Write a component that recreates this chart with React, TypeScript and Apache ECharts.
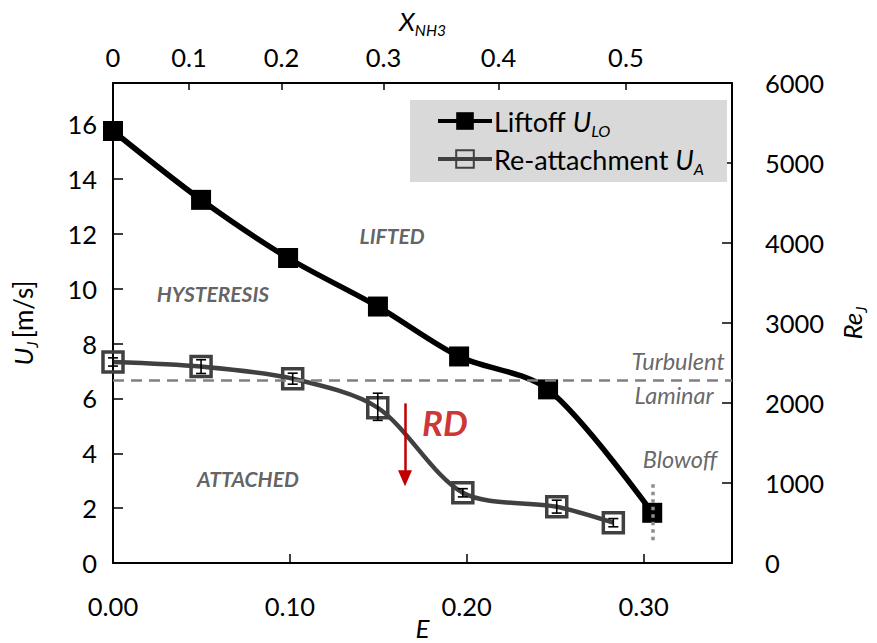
import React, { useEffect, useRef } from "react";
import * as echarts from "echarts";

// Energy fraction E of the fuel blend (bottom axis)
const E_LIFTOFF = [0, 0.0498, 0.099, 0.1498, 0.1957, 0.246, 0.3049];
const U_LIFTOFF = [15.75, 13.24, 11.12, 9.35, 7.53, 6.33, 1.83];

const E_REATTACH = [0, 0.0498, 0.1016, 0.1497, 0.1978, 0.2509, 0.2829];
const U_REATTACH = [7.33, 7.16, 6.72, 5.66, 2.56, 2.05, 1.47];
const REATTACH_LOW = [7.18, 6.91, 6.52, 5.2, 2.41, 1.82, 1.32];
const REATTACH_HIGH = [7.48, 7.41, 6.92, 6.19, 2.71, 2.29, 1.62];

// Bottom axis ticks (E)
const E_TICKS = [0, 0.1, 0.2, 0.3];
// Top axis: NH3 mole fraction labels placed at their equivalent E
const X_NH3_LABELS = ["0", "0.1", "0.2", "0.3", "0.4", "0.5"];
const X_NH3_AT_E = [0, 0.043, 0.0953, 0.153, 0.218, 0.29];

const U_TICKS = [0, 2, 4, 6, 8, 10, 12, 14, 16];
const RE_TICKS = [0, 1000, 2000, 3000, 4000, 5000, 6000];

// Laminar / turbulent transition and blowoff limit
const U_TRANSITION = 6.68;
const E_BLOWOFF = 0.305;
const U_BLOWOFF_SPAN = [0.83, 2.9];
// Recirculation-driven drop arrow
const RD_ARROW_E = 0.1651;
const RD_ARROW_U = [5.82, 3.09];

const REGION_NOTES = [
  { name: "LIFTED", e: 0.1578, u: 11.93 },
  { name: "HYSTERESIS", e: 0.0565, u: 9.82 },
  { name: "ATTACHED", e: 0.0763, u: 3.09 },
];
const FLOW_NOTES = [
  { name: "Turbulent", e: 0.3195, u: 7.35 },
  { name: "Laminar", e: 0.3172, u: 6.11 },
  { name: "Blowoff", e: 0.3206, u: 3.78 },
];
const RD_NOTE = { name: "RD", e: 0.1877, u: 5.13 };

const FONT = "Lato, 'Open Sans', sans-serif";
const DARK = "#404040";
const TICK_FONT = 25.5;

export default function App() {
  const ref = useRef<HTMLDivElement>(null);

  useEffect(() => {
    document.body.style.margin = "0";
    const chart = echarts.init(ref.current!, null, { renderer: "svg" });

    // italic symbol with lowered subscript
    const subRich = (size: number) => ({
      i: { fontStyle: "italic", fontSize: size, lineHeight: 34, fontFamily: FONT, color: "#000" },
      s: { fontStyle: "italic", fontSize: size * 0.6, lineHeight: 15, fontFamily: FONT, color: "#000", verticalAlign: "bottom" },
      n: { fontSize: size, lineHeight: 34, fontFamily: FONT, color: "#000" },
    });

    const axisLineStyle = { color: "#000", width: 2 };
    const tickStyle = { color: "#000", width: 1.5 };

    const option: any = {
      animation: false,
      textStyle: { fontFamily: FONT },
      grid: { left: 113, right: 145, top: 83, bottom: 80, containLabel: false, outerBoundsMode: "none" },
      legend: {
        data: ["Liftoff", "Re-attachment"],
        orient: "vertical",
        left: 410,
        top: 100,
        backgroundColor: "#d9d9d9",
        padding: [4, 23, 6, 26],
        itemGap: 4,
        itemWidth: 54,
        itemHeight: 22,
        lineStyle: { width: 4 },
        textStyle: {
          fontSize: 27,
          lineHeight: 34,
          color: "#000",
          fontFamily: FONT,
          padding: [0, 0, 0, -3],
          rich: subRich(27),
        },
        formatter: (name: string) =>
          name === "Liftoff" ? "{n|Liftoff }{i|U}{s|LO}" : "{n|Re-attachment }{i|U}{s|A}",
      },
      xAxis: [
        {
          type: "value",
          position: "bottom",
          min: 0,
          max: 0.35,
          name: "E",
          nameLocation: "middle",
          nameGap: 52,
          nameMoveOverlap: false,
          nameTextStyle: { fontSize: 26, fontStyle: "italic", color: "#000" },
          axisLine: { show: true, onZero: false, lineStyle: axisLineStyle },
          axisTick: { show: true, inside: true, length: 9, lineStyle: tickStyle, customValues: E_TICKS },
          axisLabel: {
            fontSize: TICK_FONT,
            color: "#000",
            margin: 30,
            customValues: E_TICKS,
            formatter: (v: number) => v.toFixed(2),
          },
          splitLine: { show: false },
        },
        {
          type: "value",
          position: "top",
          min: 0,
          max: 0.35,
          name: "{i|X}{s|NH3}",
          nameLocation: "middle",
          nameGap: 45,
          nameMoveOverlap: false,
          nameTextStyle: { rich: subRich(26) },
          axisLine: { show: true, onZero: false, lineStyle: axisLineStyle },
          axisTick: { show: true, inside: true, length: 7, lineStyle: tickStyle, customValues: X_NH3_AT_E },
          axisLabel: {
            fontSize: TICK_FONT,
            color: "#000",
            margin: 13,
            customValues: X_NH3_AT_E,
            formatter: (v: number) => {
              let best = 0;
              X_NH3_AT_E.forEach((e, k) => {
                if (Math.abs(e - v) < Math.abs(X_NH3_AT_E[best] - v)) best = k;
              });
              return X_NH3_LABELS[best];
            },
          },
          splitLine: { show: false },
        },
      ],
      yAxis: [
        {
          type: "value",
          position: "left",
          min: 0,
          max: 17.5,
          name: "{i|U}{s|J} {n|[m/s]}",
          nameLocation: "middle",
          nameRotate: 90,
          nameGap: 73,
          nameTextStyle: { rich: subRich(26) },
          axisLine: { show: true, onZero: false, lineStyle: axisLineStyle },
          axisTick: { show: true, inside: true, length: 10, lineStyle: tickStyle, customValues: U_TICKS },
          axisLabel: { fontSize: TICK_FONT, color: "#000", margin: 16, customValues: U_TICKS },
          splitLine: { show: false },
        },
        {
          type: "value",
          position: "right",
          min: 0,
          max: 6000,
          name: "{i|Re}{s|J}",
          nameLocation: "middle",
          nameRotate: 90,
          nameGap: 103,
          nameTextStyle: { rich: subRich(26) },
          axisLine: { show: true, onZero: false, lineStyle: axisLineStyle },
          axisTick: { show: true, inside: true, length: 10, lineStyle: tickStyle, customValues: RE_TICKS },
          axisLabel: {
            fontSize: TICK_FONT,
            color: "#000",
            margin: 33,
            customValues: RE_TICKS,
            formatter: (v: number) => String(v),
          },
          splitLine: { show: false },
        },
      ],
      series: [
        {
          name: "Liftoff",
          type: "line",
          smooth: 0.3,
          data: E_LIFTOFF.map((e, k) => [e, U_LIFTOFF[k]]),
          symbol: "rect",
          symbolSize: 20,
          itemStyle: { color: "#000" },
          lineStyle: { color: "#000", width: 5.5 },
          z: 4,
          markLine: {
            silent: true,
            symbol: "none",
            label: { show: false },
            data: [
              [
                { coord: [0, U_TRANSITION], lineStyle: { type: [11, 7], color: "#808080", width: 2.5 } },
                { coord: [0.35, U_TRANSITION] },
              ],
              [
                { coord: [E_BLOWOFF, U_BLOWOFF_SPAN[0]], lineStyle: { type: [3.5, 4], color: "#8c8c8c", width: 3.5 } },
                { coord: [E_BLOWOFF, U_BLOWOFF_SPAN[1]] },
              ],
              [
                { coord: [RD_ARROW_E, RD_ARROW_U[0]], symbol: "none", lineStyle: { type: "solid", color: "#c00000", width: 2.5 } },
                { coord: [RD_ARROW_E, RD_ARROW_U[1]], symbol: "triangle", symbolSize: [14, 16], symbolRotate: 180 },
              ],
            ],
          },
        },
        {
          name: "Re-attachment",
          type: "line",
          smooth: 0.3,
          data: E_REATTACH.map((e, k) => [e, U_REATTACH[k]]),
          symbol: "rect",
          symbolSize: 20,
          itemStyle: { color: "transparent", borderColor: DARK, borderWidth: 3.5 },
          lineStyle: { color: DARK, width: 4.5 },
          z: 3,
        },
        {
          name: "errors",
          type: "custom",
          z: 5,
          data: E_REATTACH.map((e, k) => [e, REATTACH_LOW[k], REATTACH_HIGH[k]]),
          renderItem: (params: any, api: any) => {
            const lo = api.coord([api.value(0), api.value(1)]);
            const hi = api.coord([api.value(0), api.value(2)]);
            const cap = 5;
            const style = { stroke: "#000", lineWidth: 1.6 };
            return {
              type: "group",
              children: [
                { type: "line", shape: { x1: lo[0], y1: lo[1], x2: hi[0], y2: hi[1] }, style },
                { type: "line", shape: { x1: lo[0] - cap, y1: lo[1], x2: lo[0] + cap, y2: lo[1] }, style },
                { type: "line", shape: { x1: hi[0] - cap, y1: hi[1], x2: hi[0] + cap, y2: hi[1] }, style },
              ],
            };
          },
        },
        {
          name: "regions",
          type: "scatter",
          symbolSize: 0,
          silent: true,
          z: 6,
          data: REGION_NOTES.map((n) => ({ name: n.name, value: [n.e, n.u] })),
          label: {
            show: true,
            position: "inside",
            formatter: "{b}",
            fontSize: 21,
            fontWeight: "bold",
            fontStyle: "italic",
            color: "#3a3a3a",
          },
        },
        {
          name: "flow",
          type: "scatter",
          symbolSize: 0,
          silent: true,
          z: 6,
          data: FLOW_NOTES.map((n) => ({ name: n.name, value: [n.e, n.u] })),
          label: {
            show: true,
            position: "inside",
            formatter: "{b}",
            fontSize: 23.5,
            fontStyle: "italic",
            color: DARK,
          },
        },
        {
          name: "rd",
          type: "scatter",
          symbolSize: 0,
          silent: true,
          z: 6,
          data: [{ name: RD_NOTE.name, value: [RD_NOTE.e, RD_NOTE.u] }],
          label: {
            show: true,
            position: "inside",
            formatter: "{b}",
            fontSize: 35,
            fontWeight: "bold",
            fontStyle: "italic",
            color: "#c00000",
          },
        },
      ],
    };

    chart.setOption(option);
    return () => chart.dispose();
  }, []);

  return (
    <div
      ref={ref}
      style={{ position: "absolute", left: 0, top: 0, width: 877, height: 643, background: "#fff" }}
    />
  );
}
